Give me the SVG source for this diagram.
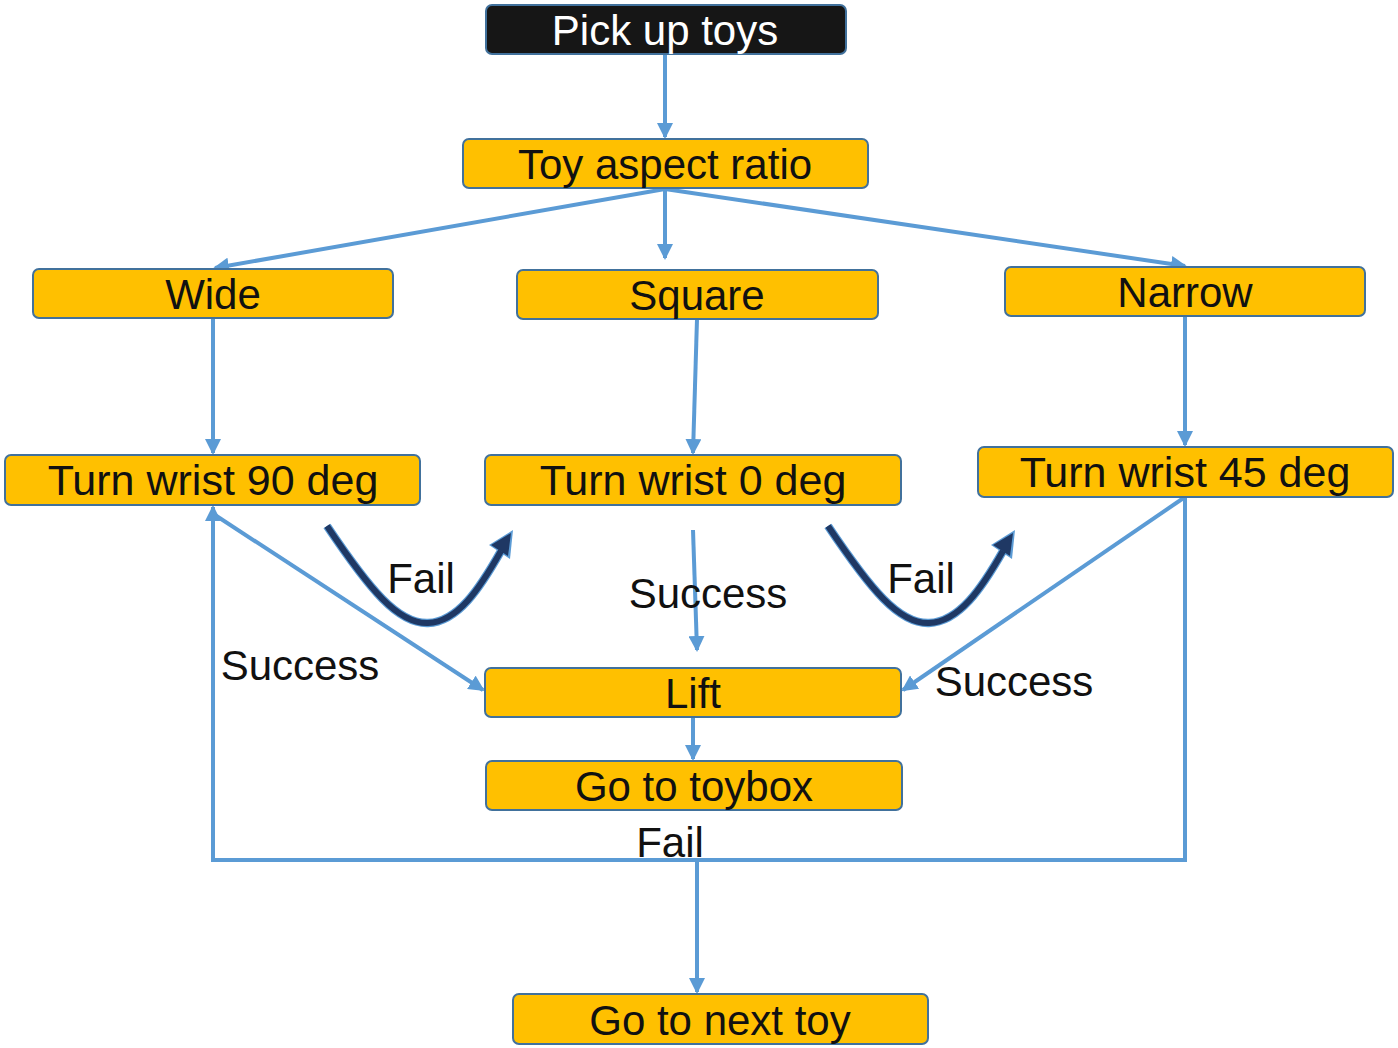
<svg xmlns="http://www.w3.org/2000/svg" width="1398" height="1048" viewBox="0 0 1398 1048">
<style>
.n{fill:#FFC000;stroke:#41719C;stroke-width:2}
.t{font-family:"Liberation Sans",Arial,sans-serif;font-size:42px;fill:#111;text-anchor:middle}
.c{stroke:#5B9BD5;stroke-width:4;fill:none}
.f{stroke:#1F3864;stroke-width:6;fill:none}
.fo{stroke:#5B9BD5;stroke-width:8.5;fill:none}
</style>
<defs>
<marker id="a" markerUnits="userSpaceOnUse" markerWidth="16" markerHeight="16" refX="14" refY="8" orient="auto">
<path d="M0,0 L16,8 L0,16 Z" fill="#5B9BD5"/>
</marker>
</defs>
<rect width="1398" height="1048" fill="#fff"/>
<g id="connectors">
<line class="c" x1="665" y1="54" x2="665" y2="137" marker-end="url(#a)"/>
<line class="c" x1="665" y1="189" x2="215" y2="268" marker-end="url(#a)"/>
<line class="c" x1="665" y1="189" x2="665" y2="258" marker-end="url(#a)"/>
<line class="c" x1="665" y1="189" x2="1185" y2="266" marker-end="url(#a)"/>
<line class="c" x1="213" y1="318" x2="213" y2="453" marker-end="url(#a)"/>
<line class="c" x1="697" y1="319" x2="693" y2="453" marker-end="url(#a)"/>
<line class="c" x1="1185" y1="316" x2="1185" y2="445" marker-end="url(#a)"/>
<line class="c" x1="215" y1="515" x2="483" y2="690" marker-end="url(#a)"/>
<line class="c" x1="693" y1="530" x2="697" y2="650" marker-end="url(#a)"/>
<line class="c" x1="1185" y1="497" x2="903" y2="690" marker-end="url(#a)"/>
<polyline class="c" points="1185,497 1185,860 213,860 213,507" marker-end="url(#a)"/>
<line class="c" x1="697" y1="860" x2="697" y2="992" marker-end="url(#a)"/>
<line class="c" x1="693" y1="717" x2="693" y2="759" marker-end="url(#a)"/>
<g id="fail1">
<path class="fo" d="M327,526 C370,590 398,624 428,623 C458,622 480,588 501,551"/>
<polygon points="513,530 489,545 510,559" fill="#5B9BD5"/>
<path class="f" d="M327,526 C370,590 398,624 428,623 C458,622 480,588 501,551"/>
<polygon points="511,533 491,545 508,556" fill="#1F3864"/>
</g>
<g id="fail2">
<path class="fo" d="M828,526 C871,590 899,624 929,623 C959,622 982,588 1003,551"/>
<polygon points="1015,530 991,545 1012,559" fill="#5B9BD5"/>
<path class="f" d="M828,526 C871,590 899,624 929,623 C959,622 982,588 1003,551"/>
<polygon points="1013,533 993,545 1010,556" fill="#1F3864"/>
</g>
</g>
<g id="labels">
<text class="t" x="421" y="593">Fail</text>
<text class="t" x="921" y="593">Fail</text>
<text class="t" x="708" y="608">Success</text>
<text class="t" x="300" y="680">Success</text>
<text class="t" x="1014" y="696">Success</text>
<text class="t" x="670" y="857">Fail</text>
</g>
<g id="pick"><rect x="486" y="5" width="360" height="49" rx="6" fill="#161616" stroke="#41719C" stroke-width="2"/><text class="t" x="665" y="45" style="fill:#fff">Pick up toys</text></g>
<g id="ratio"><rect class="n" x="463" y="139" width="405" height="49" rx="6"/><text class="t" x="665" y="179">Toy aspect ratio</text></g>
<g id="wide"><rect class="n" x="33" y="269" width="360" height="49" rx="6"/><text class="t" x="213" y="309">Wide</text></g>
<g id="square"><rect class="n" x="517" y="270" width="361" height="49" rx="6"/><text class="t" x="697" y="310">Square</text></g>
<g id="narrow"><rect class="n" x="1005" y="267" width="360" height="49" rx="6"/><text class="t" x="1185" y="307">Narrow</text></g>
<g id="w90"><rect class="n" x="5" y="455" width="415" height="50" rx="6"/><text class="t" x="213" y="495" style="font-size:43px">Turn wrist 90 deg</text></g>
<g id="w0"><rect class="n" x="485" y="455" width="416" height="50" rx="6"/><text class="t" x="693" y="495" style="font-size:43px">Turn wrist 0 deg</text></g>
<g id="w45"><rect class="n" x="978" y="447" width="415" height="50" rx="6"/><text class="t" x="1185" y="487" style="font-size:43px">Turn wrist 45 deg</text></g>
<g id="lift"><rect class="n" x="485" y="668" width="416" height="49" rx="6"/><text class="t" x="693" y="708">Lift</text></g>
<g id="toybox"><rect class="n" x="486" y="761" width="416" height="49" rx="6"/><text class="t" x="694" y="801">Go to toybox</text></g>
<g id="next"><rect class="n" x="513" y="994" width="415" height="50" rx="6"/><text class="t" x="720" y="1035">Go to next toy</text></g>
</svg>
